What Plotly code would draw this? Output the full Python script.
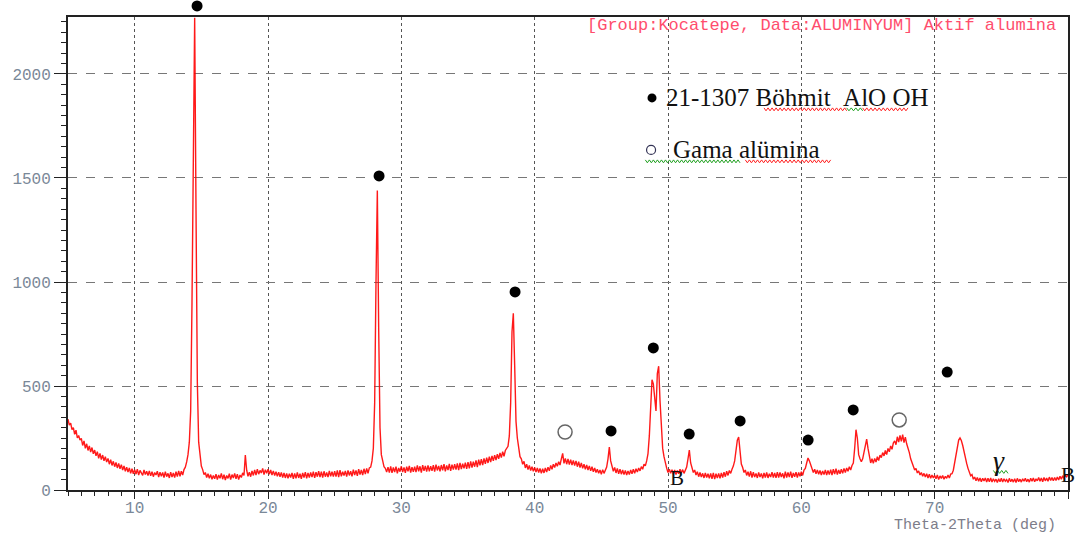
import plotly.graph_objects as go

# ---------------- data ----------------
two_theta_start = 5.0
two_theta_step = 0.1
intensity = [
    340, 312, 322, 290, 300, 268, 288, 250, 262, 240,   # 5
    248, 214, 236, 200, 222, 190, 212, 182, 204, 174,   # 6
    192, 164, 184, 152, 176, 146, 168, 140, 160, 134,   # 7
    152, 124, 146, 118, 138, 112, 132, 106, 128, 102,   # 8
    122, 96, 116, 90, 110, 86, 106, 80, 102, 78,        # 9
    98, 76, 100, 72, 94, 84, 70, 96, 74, 90,            # 10
    70, 92, 68, 88, 64, 84, 72, 90, 62, 86,             # 11
    66, 84, 60, 88, 64, 80, 58, 86, 62, 82,             # 12
    60, 88, 64, 92, 66, 90, 72, 98, 110, 135,           # 13
    170, 230, 380, 900, 1800, 2270, 1350, 520, 230, 150,  # 14
    115, 98, 74, 84, 60, 78, 56, 74, 52, 70,            # 15
    54, 76, 50, 72, 56, 80, 52, 74, 48, 70,             # 16
    56, 78, 50, 74, 58, 80, 54, 76, 50, 72,             # 17
    60, 82, 70, 168, 95, 66, 86, 64, 92, 70,            # 18
    96, 72, 100, 76, 94, 82, 104, 74, 98, 80,           # 19
    100, 76, 96, 72, 92, 70, 88, 66, 86, 64,            # 20
    84, 60, 82, 58, 80, 56, 78, 60, 82, 54,             # 21
    80, 56, 84, 58, 78, 54, 82, 60, 86, 56,             # 22
    82, 60, 84, 62, 88, 58, 86, 64, 90, 62,             # 23
    88, 60, 90, 64, 84, 62, 92, 66, 88, 64,             # 24
    90, 64, 94, 62, 96, 66, 88, 70, 92, 64,             # 25
    94, 70, 90, 66, 98, 72, 94, 68, 100, 74,            # 26
    96, 72, 102, 76, 104, 80, 106, 110, 140, 200,       # 27
    420, 1000, 1440, 780, 300, 170, 135, 112, 104, 86,  # 28
    110, 84, 114, 82, 108, 86, 112, 80, 106, 88,        # 29
    114, 86, 108, 82, 112, 90, 116, 84, 110, 88,        # 30
    112, 86, 118, 90, 114, 84, 120, 92, 116, 88,        # 31
    118, 90, 114, 92, 120, 88, 122, 94, 116, 90,        # 32
    120, 94, 124, 90, 118, 96, 126, 92, 122, 98,        # 33
    124, 98, 128, 96, 130, 100, 126, 104, 132, 102,     # 34
    134, 104, 138, 108, 136, 112, 142, 110, 146, 118,   # 35
    148, 120, 152, 126, 156, 130, 160, 134, 164, 140,   # 36
    168, 144, 172, 150, 178, 156, 184, 162, 190, 198,   # 37
    210, 260, 420, 760, 850, 600, 330, 250, 190, 160,   # 38
    150, 124, 138, 106, 124, 98, 118, 94, 112, 90,      # 39
    108, 86, 106, 84, 104, 80, 102, 82, 106, 86,        # 40
    110, 92, 118, 100, 124, 108, 130, 114, 136, 120,    # 41
    150, 176, 128, 152, 124, 150, 122, 146, 120, 142,   # 42
    118, 140, 112, 136, 108, 130, 104, 124, 100, 120,   # 43
    96, 116, 92, 112, 88, 106, 84, 100, 80, 96,         # 44
    76, 98, 80, 100, 110, 150, 206, 140, 105, 90,       # 45
    108, 82, 104, 78, 100, 76, 96, 74, 94, 72,          # 46
    92, 74, 96, 78, 100, 80, 102, 86, 106, 92,          # 47
    112, 100, 124, 116, 140, 175, 260, 420, 530, 510,   # 48
    420, 380, 560, 595, 430, 300, 200, 160, 125, 105,   # 49
    84, 100, 80, 98, 76, 96, 74, 94, 78, 100,           # 50
    82, 98, 80, 100, 110, 150, 192, 130, 100, 84,       # 51
    96, 72, 88, 64, 84, 62, 80, 58, 82, 60,             # 52
    78, 56, 80, 54, 82, 52, 78, 58, 80, 56,             # 53
    82, 60, 86, 64, 90, 70, 94, 80, 100, 115,           # 54
    140, 190, 240, 255, 180, 125, 108, 84, 96, 70,      # 55
    88, 64, 90, 60, 86, 62, 80, 58, 84, 62,             # 56
    80, 56, 82, 60, 84, 58, 78, 62, 86, 60,             # 57
    82, 58, 86, 60, 84, 62, 80, 56, 88, 60,             # 58
    84, 62, 88, 58, 82, 64, 86, 60, 84, 66,             # 59
    88, 70, 96, 104, 130, 154, 140, 118, 100, 84,       # 60
    100, 78, 96, 76, 94, 72, 92, 74, 96, 72,            # 61
    94, 74, 98, 72, 100, 76, 102, 74, 96, 78,           # 62
    100, 80, 104, 84, 106, 90, 112, 96, 118, 130,       # 63
    200, 290, 250, 170, 150, 136, 150, 180, 220, 245,   # 64
    200, 160, 130, 150, 128, 152, 134, 160, 142, 168,   # 65
    156, 180, 164, 190, 170, 200, 184, 212, 196, 226,   # 66
    236, 218, 256, 230, 262, 234, 266, 228, 254, 222,   # 67
    205, 180, 150, 130, 118, 96, 104, 82, 92, 72,       # 68
    84, 66, 80, 62, 78, 58, 76, 56, 72, 58,             # 69
    70, 54, 72, 50, 68, 56, 70, 52, 66, 56,             # 70
    72, 58, 76, 78, 95, 130, 170, 215, 240, 250,        # 71
    238, 215, 180, 150, 128, 104, 86, 68, 74, 52,       # 72
    62, 44, 60, 42, 58, 40, 56, 44, 58, 38,             # 73
    56, 40, 58, 38, 54, 42, 52, 36, 54, 40,             # 74
    56, 38, 54, 42, 50, 36, 56, 40, 52, 38,             # 75
    54, 36, 56, 40, 52, 38, 54, 42, 56, 40,             # 76
    52, 38, 56, 42, 58, 40, 54, 44, 60, 42,             # 77
    58, 40, 60, 44, 58, 42, 62, 46, 60, 44,             # 78
    60, 46, 62, 48, 66, 52, 68, 56, 72, 64,             # 79
    74,                                                 # 80
]
assert len(intensity) == 751
two_theta = [round(two_theta_start + i * two_theta_step, 1) for i in range(len(intensity))]

boehmite_x = [14.68, 28.33, 38.53, 45.73, 48.9, 51.59, 55.41, 60.51, 63.89, 70.94]
boehmite_y = [2327, 1510, 952, 284, 683, 269, 332, 240, 385, 567]
gamma_x = [42.28, 67.34]
gamma_y = [279, 337]

x_range = [5, 80]
y_range = [0, 2274]
x_ticks = [10, 20, 30, 40, 50, 60, 70, 80]
y_ticks = [0, 500, 1000, 1500, 2000]

legend_boehmite = "21-1307 Böhmit\u00a0\u00a0AlO OH"
legend_gamma = "Gama alümina"
header_text = "[Group:Kocatepe, Data:ALUMINYUM] Aktif alumina"
x_title = "Theta-2Theta (deg)"

# ---------------- figure ----------------
fig = go.Figure()
fig.add_trace(go.Scatter(
    x=two_theta, y=intensity, mode="lines",
    line=dict(color="rgba(255,0,0,0.9)", width=1.4),
    hoverinfo="skip", showlegend=False,
))
fig.add_trace(go.Scatter(
    x=boehmite_x, y=boehmite_y, mode="markers",
    marker=dict(color="black", size=11, line=dict(width=0)),
    cliponaxis=False, showlegend=False,
))
fig.add_trace(go.Scatter(
    x=gamma_x, y=gamma_y, mode="markers",
    marker=dict(color="white", size=14, line=dict(width=1.5, color="#666666")),
    cliponaxis=False, showlegend=False,
))

# legend-like bullets (in data coordinates)
fig.add_trace(go.Scatter(
    x=[48.8], y=[1885], mode="markers",
    marker=dict(color="black", size=9), showlegend=False,
))
fig.add_trace(go.Scatter(
    x=[48.73], y=[1635], mode="markers",
    marker=dict(color="white", size=9, line=dict(width=1.2, color="#333355")),
    showlegend=False,
))

serif = "Liberation Serif, Times New Roman, serif"
mono = "Liberation Mono, Courier New, monospace"
annotations = [
    dict(x=49.7, y=1885, text=legend_boehmite, xanchor="left", yanchor="middle",
         font=dict(family=serif, size=25, color="#111111")),
    dict(x=50.2, y=1635, text=legend_gamma, xanchor="left", yanchor="middle",
         font=dict(family=serif, size=25, color="#111111")),
    dict(x=50.7, y=58, text="B", xanchor="center", yanchor="middle",
         font=dict(family=serif, size=21, color="#111111")),
    dict(x=80.0, y=72, text="B", xanchor="center", yanchor="middle",
         font=dict(family=serif, size=21, color="#111111")),
    dict(x=74.84, y=140, text="<i>γ</i>", xanchor="center", yanchor="middle",
         font=dict(family=serif, size=28, color="#111111")),
    dict(xref="paper", yref="paper", x=0.99, y=0.983, text=header_text,
         xanchor="right", yanchor="middle",
         font=dict(family=mono, size=17, color="#ff4d6d")),
    dict(xref="paper", yref="paper", x=0.99, y=-0.074, text=x_title,
         xanchor="right", yanchor="middle",
         font=dict(family=mono, size=15, color="#7d7d8a")),
]
for a in annotations:
    a.setdefault("xref", "x")
    a.setdefault("yref", "y")
    a["showarrow"] = False
fig.update_layout(annotations=annotations)

# spell-check style squiggles under legend words
def squiggle(x0, x1, y, color):
    n = int((x1 - x0) / 0.15)
    pts = []
    for i in range(n + 1):
        xx = x0 + i * (x1 - x0) / n
        yy = y + (7 if i % 2 == 0 else -7)
        pts.append(("M" if i == 0 else "L") + f"{xx:.3f},{yy:.1f}")
    return dict(type="path", path=" ".join(pts), xref="x", yref="y",
                line=dict(color=color, width=1))

squiggles = [
    (57.2, 63.4, 1830, "#ff2020"),
    (63.4, 64.6, 1830, "#20a020"),
    (64.6, 68.0, 1830, "#ff2020"),
    (48.3, 55.4, 1580, "#20a020"),
    (55.8, 62.2, 1580, "#ff2020"),
    (74.4, 75.5, 87, "#20a020"),
]
shapes = [squiggle(*s) for s in squiggles]
# markers above the top of the frame are drawn as pixel-sized circle shapes
for bx, by in zip(boehmite_x, boehmite_y):
    if by > y_range[1]:
        shapes.append(dict(
            type="circle", xref="x", yref="paper",
            xsizemode="pixel", ysizemode="pixel",
            xanchor=bx, yanchor=(by - y_range[0]) / (y_range[1] - y_range[0]),
            x0=-5.5, x1=5.5, y0=-5.5, y1=5.5,
            fillcolor="black", line=dict(width=0)))
fig.update_layout(shapes=shapes)

tick_font = dict(family=mono, size=16, color="#7a8898")
fig.update_xaxes(
    range=x_range, tickvals=x_ticks, ticks="outside", ticklen=7, tickwidth=1,
    tickcolor="#222222", tickfont=tick_font, automargin=False, ticklabelstandoff=-5,
    showline=True, linecolor="#222222", linewidth=2, mirror=True,
    showgrid=True, gridcolor="#555555", gridwidth=1, griddash="dot",
    minor=dict(dtick=1, ticks="outside", ticklen=4, tickcolor="#222222", showgrid=False),
    zeroline=False,
)
fig.update_yaxes(
    range=y_range, tickvals=y_ticks, ticks="outside", ticklen=12, tickwidth=1,
    tickcolor="#222222", tickfont=tick_font, automargin=False,
    showline=True, linecolor="#222222", linewidth=2, mirror=True,
    showgrid=True, gridcolor="#777777", gridwidth=1, griddash="dash",
    minor=dict(dtick=50, ticks="outside", ticklen=5, tickcolor="#222222", showgrid=False),
    zeroline=False,
)
fig.update_layout(
    width=1076, height=536,
    margin=dict(l=68, r=8, t=17, b=46),
    plot_bgcolor="white", paper_bgcolor="white",
    showlegend=False,
)

fig.write_html("out.html", config={"displayModeBar": False},
               post_script="document.body.style.margin='0';")
